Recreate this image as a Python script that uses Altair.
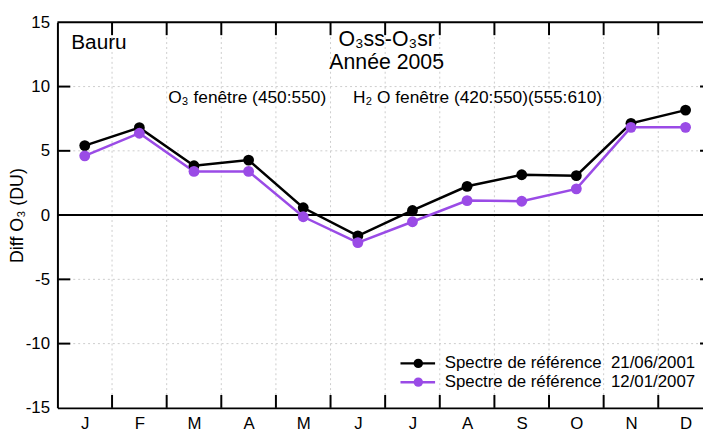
import altair as alt
import pandas as pd

# ---- data ----
month_idx = [1, 2, 3, 4, 5, 6, 7, 8, 9, 10, 11, 12]
month_labels = ["J", "F", "M", "A", "M", "J", "J", "A", "S", "O", "N", "D"]
series_names = ["Spectre de référence\u00a0 21/06/2001", "Spectre de référence\u00a0 12/01/2007"]
ref_2001 = [5.41, 6.80, 3.84, 4.28, 0.57, -1.62, 0.36, 2.24, 3.14, 3.07, 7.14, 8.17]
ref_2007 = [4.61, 6.37, 3.40, 3.40, -0.13, -2.14, -0.52, 1.13, 1.08, 2.04, 6.83, 6.83]
y_ticks = [-15, -10, -5, 0, 5, 10, 15]
y_grid = [-10, -5, 5, 10]
x_bounds = [1.5, 2.5, 3.5, 4.5, 5.5, 6.5, 7.5, 8.5, 9.5, 10.5, 11.5]
colors = ["#000000", "#9a4be6"]

FONT = "Liberation Sans"
W, H = 653, 390
XDOM = [0.5, 0.5 + W / 55.25]

df = pd.DataFrame({
    "m": month_idx * 2,
    "v": ref_2001 + ref_2007,
    "s": [series_names[0]] * 12 + [series_names[1]] * 12,
})
bounds_df = pd.DataFrame({"b": x_bounds})
ygrid_df = pd.DataFrame({"g": y_grid})

xscale = alt.Scale(domain=XDOM, nice=False, zero=False)
yscale = alt.Scale(domain=[-15, 15], nice=False, zero=False)
cscale = alt.Scale(domain=series_names, range=colors)

label_expr = "[" + ",".join("'%s'" % l for l in month_labels) + "][datum.value-1]"

# gridlines
vgrid = alt.Chart(bounds_df).mark_rule(color="#cccccc", strokeDash=[2, 3], strokeWidth=1).encode(
    x=alt.X("b:Q", scale=xscale,
            axis=alt.Axis(values=month_idx, labelExpr=label_expr, ticks=False, grid=False,
                          domain=True, domainColor="black", domainWidth=2,
                          labelFontSize=17, labelFont=FONT, labelColor="black",
                          labelPadding=8, title=None)),
)
hgrid = alt.Chart(ygrid_df).mark_rule(color="#cccccc", strokeDash=[2, 3], strokeWidth=1).encode(
    y=alt.Y("g:Q", scale=yscale,
            axis=alt.Axis(values=y_ticks, ticks=False, grid=False, domain=True,
                          labelExpr="toString(datum.value)",
                          domainColor="black", domainWidth=2,
                          labelFontSize=17, labelFont=FONT, labelColor="black",
                          labelPadding=8, title="Diff O₃ (DU)", titleFontSize=18,
                          titleFont=FONT, titleFontWeight="normal", titleColor="black",
                          titleX=-40, titleY=H / 2, titleAngle=270,
                          titleAlign="center", titleBaseline="middle")),
)

# inward ticks
tick_bottom = alt.Chart(bounds_df).mark_rule(color="black", strokeWidth=2).encode(
    x="b:Q", y=alt.value(H), y2=alt.value(H - 13))
tick_top = alt.Chart(bounds_df).mark_rule(color="black", strokeWidth=2).encode(
    x="b:Q", y=alt.value(0), y2=alt.value(13))
tick_left = alt.Chart(ygrid_df).mark_rule(color="black", strokeWidth=2).encode(
    y="g:Q", x=alt.value(0), x2=alt.value(13))
tick_right = alt.Chart(ygrid_df).mark_rule(color="black", strokeWidth=2, clip=True).encode(
    y="g:Q", x=alt.value(W - 3), x2=alt.value(W + 10))

top_border = alt.Chart(pd.DataFrame({"y": [15]})).mark_rule(color="black", strokeWidth=2).encode(
    y="y:Q", x=alt.value(0), x2=alt.value(W))
zero_line = alt.Chart(pd.DataFrame({"y": [0]})).mark_rule(color="black", strokeWidth=2).encode(
    y="y:Q", x=alt.value(0), x2=alt.value(W))

lines = alt.Chart(df).mark_line(strokeWidth=2.5).encode(
    x="m:Q", y="v:Q",
    color=alt.Color("s:N", scale=cscale, legend=None),
    detail="s:N",
)
points = alt.Chart(df).mark_point(filled=True, size=120, opacity=1).encode(
    x="m:Q", y="v:Q",
    color=alt.Color("s:N", scale=cscale, legend=None),
)

def text_layer(txt, x, y, size, align="left"):
    return alt.Chart(pd.DataFrame({"t": [txt]})).mark_text(
        font=FONT, fontSize=size, align=align, baseline="alphabetic", color="black"
    ).encode(text="t:N", x=alt.value(x), y=alt.value(y))

annotations = [
    text_layer("Bauru", 14, 27, 21),
    text_layer("O₃ss-O₃sr", 333, 24, 21.5, "center"),
    text_layer("Année 2005", 333, 47, 21.5, "center"),
    text_layer("O₃ fenêtre (450:550)", 112, 82, 17.5),
    text_layer("H₂ O fenêtre (420:550)(555:610)", 299, 82, 17.5),
]

# legend
legend_layers = []
for i, name in enumerate(series_names):
    ly = 345 + 19 * i
    ldf = pd.DataFrame({"s": [name]})
    legend_layers.append(alt.Chart(ldf).mark_rule(strokeWidth=2.5).encode(
        x=alt.value(347), x2=alt.value(382), y=alt.value(ly),
        color=alt.Color("s:N", scale=cscale, legend=None)))
    legend_layers.append(alt.Chart(ldf).mark_point(filled=True, size=90, opacity=1).encode(
        x=alt.value(365), y=alt.value(ly),
        color=alt.Color("s:N", scale=cscale, legend=None)))
    legend_layers.append(alt.Chart(ldf).mark_text(
        font=FONT, fontSize=17, align="right", baseline="middle", color="black").encode(
        x=alt.value(645), y=alt.value(ly), text="s:N"))

chart = alt.layer(
    vgrid, hgrid, tick_bottom, tick_top, tick_left, tick_right, top_border, zero_line,
    lines, points, *annotations, *legend_layers
).properties(
    width=W, height=H,
    autosize=alt.AutoSizeParams(type="none"),
    padding={"left": 50, "top": 12, "right": 0, "bottom": 28},
    background="white",
).configure_view(stroke=None)

chart.save("out.html", embed_options={"renderer": "svg", "actions": False})
